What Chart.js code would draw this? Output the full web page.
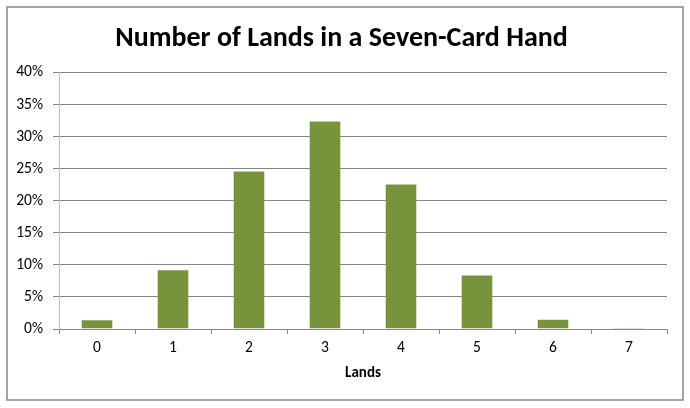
<!DOCTYPE html>
<html>
<head>
<meta charset="utf-8">
<script src="https://cdn.jsdelivr.net/npm/chart.js@4"></script>
<style>
    html, body { margin: 0; padding: 0; background: #ffffff; }
    #wrap { width: 690px; height: 408px; position: relative; }
</style>
</head>
<body>
<div id="wrap"><canvas id="chart" width="690" height="408"></canvas></div>
<script>
// Chart data
const lands = ['0', '1', '2', '3', '4', '5', '6', '7'];
const handPercent = [1.4, 9.2, 24.6, 32.4, 22.6, 8.4, 1.5, 0.15];
const yTicks = [0, 5, 10, 15, 20, 25, 30, 35, 40];

const fontFamily = 'Carlito, Lato, "Open Sans", sans-serif';

// Grey frame round the whole chart, like the spreadsheet chart border
const framePlugin = {
    id: 'frame',
    beforeDraw(chart) {
        const ctx = chart.ctx;
        ctx.save();
        ctx.fillStyle = '#ffffff';
        ctx.fillRect(0, 0, chart.width, chart.height);
        ctx.strokeStyle = '#868686';
        ctx.lineWidth = 1.5;
        ctx.strokeRect(7, 7, 676, 393);
        ctx.restore();
    }
};

function init() {
    const ctx = document.getElementById('chart').getContext('2d');

    window.landsChart = new Chart(ctx, {
        type: 'bar',
        data: {
            labels: lands,
            datasets: [{
                label: 'Lands',
                data: handPercent,
                backgroundColor: '#77933C',
                borderColor: '#86A24A',
                borderWidth: 0.5,
                categoryPercentage: 1.0,
                barPercentage: 0.41,
                minBarLength: 1
            }]
        },
        options: {
            responsive: false,
            animation: false,
            layout: {
                padding: { left: 16, right: 23, top: 0, bottom: 10 }
            },
            plugins: {
                legend: { display: false },
                tooltip: { enabled: false },
                title: {
                    display: true,
                    text: 'Number of Lands in a Seven-Card Hand',
                    color: '#000000',
                    font: { family: fontFamily, size: 28, weight: 'bold', lineHeight: 1.2 },
                    padding: { top: 22, bottom: 17 }
                }
            },
            scales: {
                x: {
                    grid: {
                        display: true,
                        drawOnChartArea: false,
                        drawTicks: true,
                        tickLength: 5,
                        color: '#868686',
                        offset: true
                    },
                    border: { display: true, color: '#868686', width: 1 },
                    ticks: {
                        color: '#000000',
                        padding: 5,
                        font: { family: fontFamily, size: 15.5 }
                    },
                    title: {
                        display: true,
                        text: 'Lands',
                        color: '#000000',
                        font: { family: fontFamily, size: 15, weight: 'bold', lineHeight: 1.2 },
                        padding: { top: 4, bottom: 16 }
                    },
                    afterFit(scale) {
                        scale.height = 69;
                    }
                },
                y: {
                    min: 0,
                    max: 40,
                    afterBuildTicks(scale) {
                        scale.ticks = yTicks.map(v => ({ value: v }));
                    },
                    ticks: {
                        color: '#000000',
                        padding: 10,
                        font: { family: fontFamily, size: 15.5 },
                        callback: value => value + '%'
                    },
                    grid: {
                        color: '#868686',
                        drawTicks: true,
                        tickLength: 6
                    },
                    border: { display: true, color: '#BFBFBF', width: 1 },
                    afterFit(scale) {
                        scale.width = 43;
                    }
                }
            }
        },
        plugins: [framePlugin]
    });
}

document.addEventListener('DOMContentLoaded', init);
</script>
</body>
</html>
